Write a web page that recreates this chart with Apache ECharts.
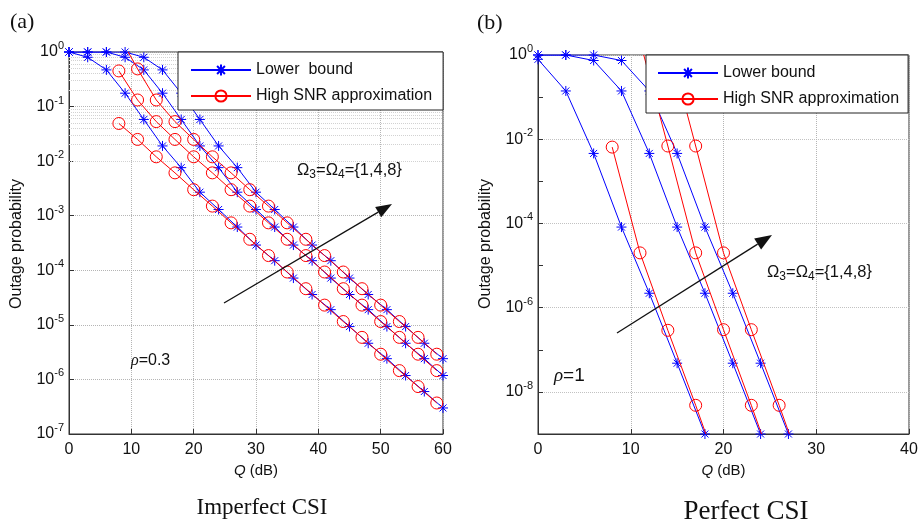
<!DOCTYPE html>
<html>
<head>
<meta charset="utf-8">
<script src="https://cdn.jsdelivr.net/npm/echarts@6/dist/echarts.min.js"></script>
<style>
  html, body { margin: 0; padding: 0; background: #fff; }
  #chart { width: 919px; height: 522px; }
</style>
</head>
<body>
<div id="chart"></div>
<script>
// ---- values ----
// (a) imperfect CSI, rho = 0.3, Omega3 = Omega4 = 1, 4, 8
const qLowerA = [0, 3, 6, 9, 12, 15, 18, 21, 24, 27, 30, 33, 36, 39, 42, 45, 48, 51, 54, 57, 60];
const lowerA1 = [1, 0.8, 0.47, 0.176, 0.058, 0.019, 0.0076, 0.0027, 0.0013, 6.2e-4, 2.9e-4, 1.5e-4, 7.2e-5, 3.6e-5, 1.9e-5, 9.3e-6, 4.6e-6, 2.4e-6, 1.18e-6, 6.0e-7, 3.0e-7];
const lowerA4 = [1, 1, 1, 0.8, 0.47, 0.176, 0.058, 0.019, 0.0076, 0.0027, 0.0013, 6.2e-4, 2.9e-4, 1.5e-4, 7.2e-5, 3.6e-5, 1.9e-5, 9.3e-6, 4.6e-6, 2.4e-6, 1.18e-6];
const lowerA8 = [1, 1, 1, 1, 0.8, 0.47, 0.176, 0.058, 0.019, 0.0076, 0.0027, 0.0013, 6.2e-4, 2.9e-4, 1.5e-4, 7.2e-5, 3.6e-5, 1.9e-5, 9.3e-6, 4.6e-6, 2.4e-6];
const qHighA = [8, 11, 14, 17, 20, 23, 26, 29, 32, 35, 38, 41, 44, 47, 50, 53, 56, 59];
const qHighA8 = [11, 14, 17, 20, 23, 26, 29, 32, 35, 38, 41, 44, 47, 50, 53, 56, 59];
const highA1 = [0.049, 0.025, 0.012, 0.0061, 0.0030, 0.0015, 7.4e-4, 3.7e-4, 1.86e-4, 9.3e-5, 4.6e-5, 2.3e-5, 1.15e-5, 5.9e-6, 2.9e-6, 1.45e-6, 7.4e-7, 3.7e-7];
const highA4 = [0.45, 0.132, 0.053, 0.025, 0.012, 0.0061, 0.0030, 0.0015, 7.4e-4, 3.7e-4, 1.86e-4, 9.3e-5, 4.6e-5, 2.3e-5, 1.15e-5, 5.9e-6, 2.9e-6, 1.45e-6];
const highA8 = [0.49, 0.132, 0.053, 0.025, 0.012, 0.0061, 0.0030, 0.0015, 7.4e-4, 3.7e-4, 1.86e-4, 9.3e-5, 4.6e-5, 2.3e-5, 1.15e-5, 5.9e-6, 2.9e-6];
const highA8Top = [9.5, 1];          // where that curve leaves the top of the frame

// (b) perfect CSI, rho = 1
const qLowerB = [0, 3, 6, 9, 12, 15, 18, 21, 24, 27];
const lowerB1 = [0.79, 0.14, 0.0046, 8.2e-5, 2.2e-6, 4.8e-8, 1e-9];
const lowerB4 = [1, 1, 0.74, 0.14, 0.0046, 8.2e-5, 2.2e-6, 4.8e-8, 1e-9];
const lowerB8 = [1, 1, 1, 0.74, 0.14, 0.0046, 8.2e-5, 2.2e-6, 4.8e-8, 1e-9];
const qHighB1 = [8, 11, 14, 17];
const qHighB4 = [14, 17, 20, 23];
const qHighB8 = [17, 20, 23, 26];
const highB1 = [0.0065, 2.0e-5, 2.9e-7, 4.8e-9];
const highB4 = [0.0069, 2.0e-5, 3.0e-7, 4.8e-9];
const highB8 = [0.0069, 2.0e-5, 3.0e-7, 4.8e-9];
const highB1End = [18.1, 1e-9];      // red lines run on to the bottom edge
const highB4End = [24.1, 1e-9];
const highB8End = [27.1, 1e-9];
const highB4Top = [11.4, 1];
const highB8Top = [14.4, 1];

const decadesA = [-7, -6, -5, -4, -3, -2, -1];
const minorSteps = [2, 3, 4, 5, 6, 7, 8, 9];

const BLUE = '#0000ff';
const RED = '#ff0000';
const sans = "'Liberation Sans', Arial, Helvetica, sans-serif";
const serif = "'Liberation Serif', 'Times New Roman', serif";
const starPath = 'path://M0,-10L0,10M-10,0L10,0M-7,-7L7,7M-7,7L7,-7';

const pts = (qs, vs) => vs.map((v, i) => [qs[i], v]);
const bare = p => ({ value: p, symbol: 'none' });

function lower(name, idx, data) {
  return {
    name, type: 'line', xAxisIndex: idx, yAxisIndex: idx, data,
    symbol: starPath, symbolSize: 10,
    lineStyle: { color: BLUE, width: 1 },
    itemStyle: { color: BLUE, borderColor: BLUE, borderWidth: 1 },
    emphasis: { disabled: true }, z: 2
  };
}
function high(name, idx, data) {
  return {
    name, type: 'line', xAxisIndex: idx, yAxisIndex: idx, data,
    symbol: 'circle', symbolSize: 12,
    lineStyle: { color: RED, width: 1 },
    itemStyle: { color: 'rgba(0,0,0,0)', borderColor: RED, borderWidth: 1 },
    emphasis: { disabled: true }, z: 3
  };
}

// minor log grid of panel (a): 2..9 x 10^e
const minorLines = [];
decadesA.forEach(e => minorSteps.forEach(m => minorLines.push({ yAxis: m * Math.pow(10, e) })));

const expLabel = v => {
  const e = Math.round(Math.log10(v));
  return '{b|10}{s|' + e + '}';
};
const expRich = {
  b: { fontSize: 16, fontFamily: sans, color: '#111' },
  s: { fontSize: 11, fontFamily: sans, color: '#111', padding: [0, 0, 12, 0] }
};

function xAxis(idx, max) {
  return {
    gridIndex: idx, type: 'value', min: 0, max, interval: 10,
    name: '{i|Q} (dB)', nameLocation: 'middle', nameGap: 28,
    nameTextStyle: { fontSize: 15, color: '#111', fontFamily: sans,
      rich: { i: { fontSize: 15, fontStyle: 'italic', fontFamily: sans, color: '#111' } } },
    axisLine: { onZero: false, lineStyle: { color: '#333' } },
    axisTick: { inside: true, length: 5, lineStyle: { color: '#333' } },
    axisLabel: { fontSize: 16, margin: 8, color: '#111', fontFamily: sans },
    splitLine: { show: true, lineStyle: { type: 'dotted', color: '#b5b5b5' } }
  };
}

const legendBase = {
  orient: 'vertical', align: 'left', itemWidth: 60, itemHeight: 14, itemGap: 10,
  padding: [10, 11, 6, 12], backgroundColor: '#fff', borderColor: '#222', borderWidth: 1,
  borderRadius: 0, selectedMode: false,
  textStyle: { fontSize: 16, fontFamily: sans, color: '#111' }
};

function arrow(x1, y1, x2, y2, L, W) {
  const a = Math.atan2(y2 - y1, x2 - x1);
  const bx = x2 - L * Math.cos(a), by = y2 - L * Math.sin(a);
  const px = -Math.sin(a) * W, py = Math.cos(a) * W;
  return [
    { type: 'line', z: 100, shape: { x1, y1, x2: bx, y2: by }, style: { stroke: '#111', lineWidth: 1.3 } },
    { type: 'polygon', z: 100, shape: { points: [[x2, y2], [bx + px, by + py], [bx - px, by - py]] }, style: { fill: '#111' } }
  ];
}
function label(x, y, text, size, family, extra) {
  return { type: 'text', x, y, z: 100,
    style: Object.assign({ text, fontSize: size, fontFamily: family, fill: '#111',
      align: 'left', verticalAlign: 'middle' }, extra || {}) };
}
const omegaRich = {
  a: { fontSize: 16.5, fontFamily: sans, color: '#111' },
  s: { fontSize: 12, fontFamily: sans, color: '#111', padding: [9, 0, 0, 0] }
};
const rhoRich = size => ({
  i: { fontSize: size, fontFamily: serif, fontStyle: 'italic', color: '#111' },
  a: { fontSize: size, fontFamily: sans, color: '#111' }
});

const chart = echarts.init(document.getElementById('chart'));
chart.setOption({
  animation: false,
  backgroundColor: '#fff',
  textStyle: { fontFamily: sans },
  grid: [
    { left: 69, top: 52, width: 374, height: 382, show: true, borderColor: '#333', borderWidth: 1, outerBoundsMode: 'none' },
    { left: 538, top: 55, width: 371, height: 379, show: true, borderColor: '#333', borderWidth: 1, outerBoundsMode: 'none' }
  ],
  xAxis: [xAxis(0, 60), xAxis(1, 40)],
  yAxis: [
    {
      gridIndex: 0, type: 'log', logBase: 10, min: 1e-7, max: 1, interval: 1,
      axisLine: { lineStyle: { color: '#333' } },
      axisTick: { inside: true, length: 5, lineStyle: { color: '#333' } },
      axisLabel: { formatter: expLabel, rich: expRich, margin: 5 },
      splitLine: { show: true, lineStyle: { type: 'dotted', color: '#b5b5b5' } }
    },
    {
      gridIndex: 1, type: 'log', logBase: 10, min: 1e-9, max: 1, interval: 1,
      axisLine: { lineStyle: { color: '#333' } },
      axisTick: { inside: true, length: 5, lineStyle: { color: '#333' } },
      axisLabel: {
        formatter: v => (Math.abs(Math.round(Math.log10(v))) % 2 === 1 ? '' : expLabel(v)),
        rich: expRich, margin: 5
      },
      splitLine: { show: true, lineStyle: { type: 'dotted', color: ['rgba(0,0,0,0)', '#c2c2c2'] } }
    }
  ],
  legend: [
    Object.assign({}, legendBase, { data: ['Lower  bound', 'High SNR approximation'], left: 178, top: 52 }),
    Object.assign({}, legendBase, { data: ['Lower bound', 'High SNR approximation'], left: 646, top: 55,
      padding: [10, 9, 6, 11] })
  ],
  series: [
    Object.assign(lower('Lower  bound', 0, pts(qLowerA, lowerA1)), {
      markLine: {
        silent: true, symbol: 'none', z: 1, label: { show: false },
        lineStyle: { type: 'dotted', color: '#d2d2d2', width: 1 },
        emphasis: { disabled: true },
        data: minorLines
      }
    }),
    lower('Lower  bound', 0, pts(qLowerA, lowerA4)),
    lower('Lower  bound', 0, pts(qLowerA, lowerA8)),
    high('High SNR approximation', 0, pts(qHighA, highA1)),
    high('High SNR approximation', 0, pts(qHighA, highA4)),
    high('High SNR approximation', 0, [bare(highA8Top)].concat(pts(qHighA8, highA8))),

    lower('Lower bound', 1, pts(qLowerB, lowerB1)),
    lower('Lower bound', 1, pts(qLowerB, lowerB4)),
    lower('Lower bound', 1, pts(qLowerB, lowerB8)),
    high('High SNR approximation', 1, pts(qHighB1, highB1).concat([bare(highB1End)])),
    high('High SNR approximation', 1, [bare(highB4Top)].concat(pts(qHighB4, highB4), [bare(highB4End)])),
    high('High SNR approximation', 1, [bare(highB8Top)].concat(pts(qHighB8, highB8), [bare(highB8End)]))
  ],
  graphic: [
    label(10, 22, '(a)', 22, serif),
    label(477, 23, '(b)', 22, serif),
    label(262, 508, 'Imperfect CSI', 23, serif, { align: 'center' }),
    label(746, 512, 'Perfect CSI', 27, serif, { align: 'center' }),
    { type: 'text', x: 17, y: 244, rotation: Math.PI / 2, z: 100,
      style: { text: 'Outage probability', fontSize: 16, fontFamily: sans, fill: '#111', align: 'center', verticalAlign: 'middle' } },
    { type: 'text', x: 486, y: 244, rotation: Math.PI / 2, z: 100,
      style: { text: 'Outage probability', fontSize: 16, fontFamily: sans, fill: '#111', align: 'center', verticalAlign: 'middle' } },
    label(297, 170, '{a|Ω}{s|3}{a|=Ω}{s|4}{a|={1,4,8}}', 16, sans, { rich: omegaRich }),
    label(767, 272, '{a|Ω}{s|3}{a|=Ω}{s|4}{a|={1,4,8}}', 16, sans, { rich: omegaRich }),
    label(131, 361, '{i|ρ}{a|=0.3}', 16, sans, { rich: rhoRich(16) }),
    label(554, 376, '{i|ρ}{a|=1}', 19, sans, { rich: rhoRich(19) })
  ].concat(arrow(224, 303, 392, 204, 16, 6), arrow(617, 333, 772, 235, 17, 6.5))
});
</script>
</body>
</html>
